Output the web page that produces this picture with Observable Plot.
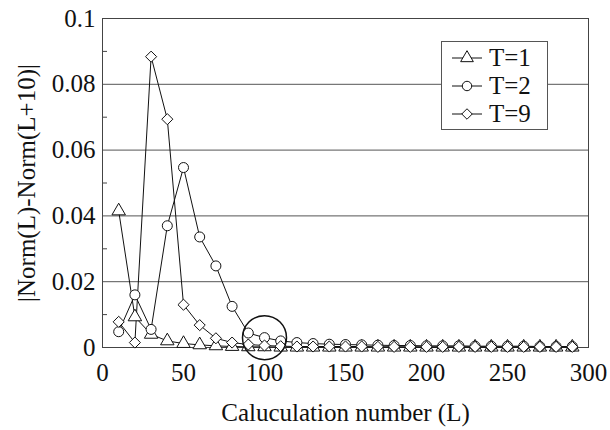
<!DOCTYPE html>
<html>
<head>
<meta charset="utf-8">
<script src="https://cdn.jsdelivr.net/npm/d3@7"></script>
<script src="https://cdn.jsdelivr.net/npm/@observablehq/plot@0.6"></script>
<style>
  body { margin: 0; background: #fff; }
  #wrap { position: relative; width: 610px; height: 430px; font-family: "Liberation Serif", serif; }
  #legend { position: absolute; left: 441px; top: 41px; width: 107px; height: 89px; border: 1px solid #555; background: #fff; box-sizing: border-box; padding-top: 2px; }
  .row { display: flex; align-items: center; height: 28px; font-size: 25px; color: #111; font-family: "Liberation Serif", serif; }
  .row svg { margin-left: 10px; margin-right: 7px; }
</style>
</head>
<body>
<div id="wrap"></div>
<script>
const L = [10,20,30,40,50,60,70,80,90,100,110,120,130,140,150,160,170,180,190,200,210,220,230,240,250,260,270,280,290];
const seriesNames = ["T=1", "T=2", "T=9"];
const seriesSymbols = ["triangle", "circle", "diamond2"];
const T1 = [0.0415,0.0093,0.0040,0.0020,0.0012,0.0008,0.0005,0.0003,0.0002,0.0002,0.0001,0.0001,0.0001,0.0001,0.0001,0.0001,0.0001,0.0001,0.0001,0.0001,0.0001,0.0001,0.0001,0.0001,0.0001,0.0001,0.0001,0.0001,0.0001];
const T2 = [0.0048,0.0160,0.0055,0.0370,0.0547,0.0336,0.0248,0.0125,0.0044,0.0030,0.0020,0.0015,0.0012,0.0010,0.0009,0.0008,0.0007,0.0006,0.0006,0.0005,0.0005,0.0005,0.0004,0.0004,0.0004,0.0004,0.0003,0.0003,0.0003];
const T9 = [0.0078,0.0015,0.0884,0.0694,0.0130,0.0068,0.0028,0.0015,0.0009,0.0006,0.0004,0.0003,0.0003,0.0003,0.0003,0.0003,0.0002,0.0002,0.0002,0.0002,0.0002,0.0002,0.0002,0.0002,0.0002,0.0002,0.0002,0.0002,0.0002];
const yMajorTicks = [0, 0.02, 0.04, 0.06, 0.08, 0.1];
const yMinorTicks = [0.01, 0.03, 0.05, 0.07, 0.09];
const yGrid = [0.02, 0.04, 0.06, 0.08];
const xTicks = [0, 50, 100, 150, 200, 250, 300];
const highlight = [{x: 100, y: 0.003}];

const seriesValues = [T1, T2, T9];
const data = [];
seriesNames.forEach((name, i) => {
  L.forEach((l, j) => data.push({series: name, L: l, v: seriesValues[i][j]}));
});

const fmt = d => String(+d.toFixed(2));

const chart = Plot.plot({
  width: 610,
  height: 430,
  marginLeft: 102,
  marginRight: 22,
  marginTop: 18,
  marginBottom: 83,
  style: {fontFamily: "'Liberation Serif', serif", fontSize: "25px", background: "white", color: "#111"},
  x: {domain: [0, 300]},
  y: {domain: [0, 0.1]},
  marks: [
    Plot.gridY(yGrid, {stroke: "#555", strokeOpacity: 1, strokeWidth: 1}),
    Plot.axisY(yMinorTicks, {tickSize: -5, text: null, label: null, stroke: "#444"}),
    Plot.axisY(yMajorTicks, {tickSize: 0, tickPadding: 7, tickFormat: fmt, label: "|Norm(L)-Norm(L+10)|", labelAnchor: "center", labelOffset: 85, labelArrow: "none"}),
    Plot.axisX(xTicks, {tickSize: 0, tickPadding: 16, label: "Caluculation number (L)", labelAnchor: "center", labelOffset: 73, labelArrow: "none"}),
    Plot.frame({stroke: "#444"}),
    Plot.line(data, {x: "L", y: "v", z: "series", stroke: "#111", strokeWidth: 1}),
    ...seriesNames.map((name, i) => Plot.dot(data.filter(d => d.series === name), {x: "L", y: "v", symbol: () => seriesSymbols[i], r: 5, fill: "white", stroke: "#111", strokeWidth: 1})),
    Plot.dot(highlight, {x: "x", y: "y", r: 22, fill: "none", stroke: "#111", strokeWidth: 1.5})
  ]
});

const wrap = document.getElementById("wrap");
wrap.appendChild(chart);

// legend overlay
const legend = document.createElement("div");
legend.id = "legend";
const symPaths = {
  triangle: d3.symbol(d3.symbolTriangle, 70)(),
  circle: d3.symbol(d3.symbolCircle, 70)(),
  diamond2: d3.symbol(d3.symbolDiamond2, 70)()
};
seriesNames.forEach((name, i) => {
  const row = document.createElement("div");
  row.className = "row";
  row.innerHTML = `<svg width="30" height="20" viewBox="-15 -10 30 20"><line x1="-15" x2="15" y1="0" y2="0" stroke="#111" stroke-width="1"/><path d="${symPaths[seriesSymbols[i]]}" fill="white" stroke="#111" stroke-width="1"/></svg><span>${name}</span>`;
  legend.appendChild(row);
});
wrap.appendChild(legend);
</script>
</body>
</html>
